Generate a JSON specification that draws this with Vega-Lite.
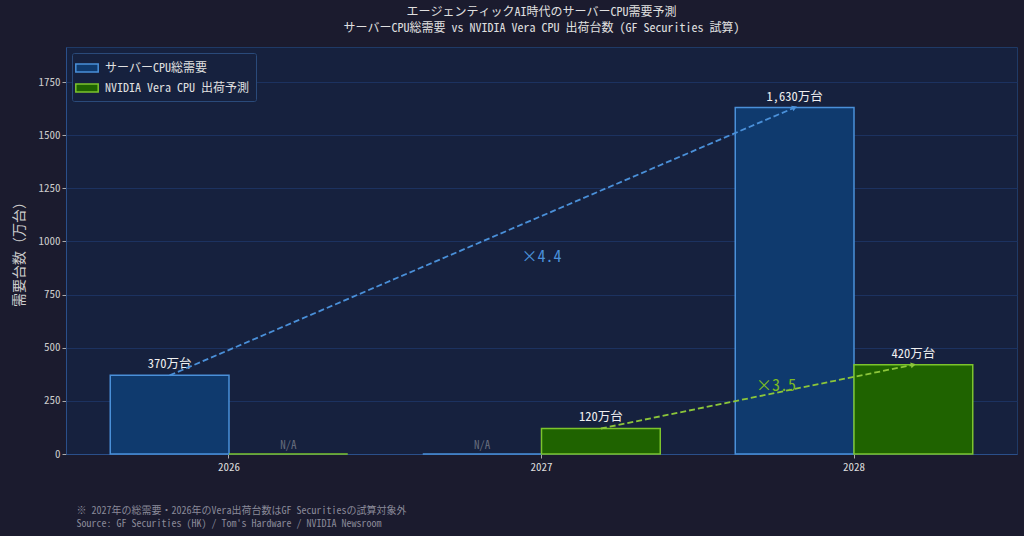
{
  "$schema": "https://vega.github.io/schema/vega-lite/v6.json",
  "width": 951,
  "height": 407,
  "autosize": {"type": "none"},
  "padding": {"left": 66, "top": 47, "right": 7, "bottom": 82},
  "background": "#1b1b2e",
  "config": {
    "font": "Noto Sans Mono CJK JP, DejaVu Sans Mono, Noto Sans CJK JP",
    "view": {"fill": "#16213e", "stroke": "#1f3a66"},
    "axis": {"labelFont": "Noto Sans Mono CJK JP, DejaVu Sans Mono, Noto Sans CJK JP", "titleFont": "Noto Sans Mono CJK JP, DejaVu Sans Mono, Noto Sans CJK JP"},
    "legend": {"labelFont": "Noto Sans Mono CJK JP, DejaVu Sans Mono, Noto Sans CJK JP"},
    "title": {"font": "Noto Sans Mono CJK JP, DejaVu Sans Mono, Noto Sans CJK JP", "subtitleFont": "Noto Sans Mono CJK JP, DejaVu Sans Mono, Noto Sans CJK JP"}
  },
  "title": {
    "text": "エージェンティックAI時代のサーバーCPU需要予測",
    "subtitle": "サーバーCPU総需要 vs NVIDIA Vera CPU 出荷台数 (GF Securities 試算)",
    "anchor": "middle",
    "fontSize": 12,
    "fontWeight": "normal",
    "color": "#e0e0e0",
    "subtitleFontSize": 12,
    "subtitleColor": "#e0e0e0",
    "subtitlePadding": 4,
    "offset": 12
  },
  "datasets": {
    "bars": [
      {"year": "2026", "series": "サーバーCPU総需要", "value": 370, "label": "370万台"},
      {"year": "2026", "series": "NVIDIA Vera CPU 出荷予測", "value": 0, "label": "N/A"},
      {"year": "2027", "series": "サーバーCPU総需要", "value": 0, "label": "N/A"},
      {"year": "2027", "series": "NVIDIA Vera CPU 出荷予測", "value": 120, "label": "120万台"},
      {"year": "2028", "series": "サーバーCPU総需要", "value": 1630, "label": "1,630万台"},
      {"year": "2028", "series": "NVIDIA Vera CPU 出荷予測", "value": 420, "label": "420万台"}
    ],
    "notes": [
      {"year": "2027", "value": 925, "text": "×4.4", "kind": "blue"},
      {"year": "2028", "value": 320, "text": "×3.5", "kind": "green"}
    ]
  },
  "data": {"name": "bars"},
  "encoding": {
    "x": {
      "field": "year", "type": "nominal",
      "scale": {"paddingInner": 0.24, "paddingOuter": 0.1416},
      "axis": {
        "title": ["※ 2027年の総需要・2026年のVera出荷台数はGF Securitiesの試算対象外", "Source: GF Securities (HK) / Tom's Hardware / NVIDIA Newsroom"],
        "titleAnchor": "start", "titleAlign": "left", "titleBaseline": "top",
        "titleX": 10, "titleY": 51, "titleFontSize": 10, "titleFontWeight": "normal",
        "titleColor": "#8a8a99", "titleLineHeight": 13,
        "labelAngle": 0, "labelColor": "#dddddd", "labelFontSize": 11, "labelPadding": 3,
        "tickColor": "#aaaaaa", "tickSize": 4, "domainColor": "#2a4f8a"
      }
    },
    "xOffset": {"field": "series", "type": "nominal", "scale": {"domain": ["サーバーCPU総需要", "NVIDIA Vera CPU 出荷予測"], "paddingInner": 0}},
    "y": {
      "field": "value", "type": "quantitative",
      "scale": {"domain": [0, 1915], "nice": false},
      "axis": {
        "title": "需要台数（万台）", "titleColor": "#cccccc", "titleFontSize": 14, "titleFontWeight": "normal", "titlePadding": 12,
        "values": [0, 250, 500, 750, 1000, 1250, 1500, 1750], "format": "d",
        "labelColor": "#cccccc", "labelFontSize": 11, "tickColor": "#aaaaaa", "tickSize": 4,
        "gridColor": "#1c3260", "gridWidth": 1, "domainColor": "#2a4f8a"
      }
    }
  },
  "layer": [
    {
      "mark": {"type": "bar", "strokeWidth": 1.5},
      "encoding": {
        "fill": {"field": "series", "type": "nominal",
          "scale": {"domain": ["サーバーCPU総需要", "NVIDIA Vera CPU 出荷予測"], "range": ["#0f3a6e", "#1f6300"]},
          "legend": {"title": null, "orient": "top-left", "offset": 6, "fillColor": "#16213e", "strokeColor": "#2a4a7a",
            "padding": 6, "cornerRadius": 2, "labelColor": "#e0e0e0", "labelFontSize": 12, "rowPadding": 4, "labelOffset": 9,
            "symbolType": "M-1.4,-0.5H1.4V0.5H-1.4Z", "symbolSize": 256, "symbolStrokeWidth": 1.5, "symbolOpacity": 1}},
        "stroke": {"field": "series", "type": "nominal",
          "scale": {"domain": ["サーバーCPU総需要", "NVIDIA Vera CPU 出荷予測"], "range": ["#4a90d9", "#7cc42c"]},
          "legend": {"title": null, "orient": "top-left", "offset": 6, "fillColor": "#16213e", "strokeColor": "#2a4a7a",
            "padding": 6, "cornerRadius": 2, "labelColor": "#e0e0e0", "labelFontSize": 12, "rowPadding": 4, "labelOffset": 9,
            "symbolType": "M-1.4,-0.5H1.4V0.5H-1.4Z", "symbolSize": 256, "symbolStrokeWidth": 1.5, "symbolOpacity": 1}}
      }
    },
    {
      "transform": [{"filter": "datum.label != 'N/A'"}],
      "mark": {"type": "text", "baseline": "bottom", "dy": -4, "fontSize": 12.5, "color": "#f0f0f0"},
      "encoding": {"text": {"field": "label"}}
    },
    {
      "transform": [{"filter": "datum.label == 'N/A'"}],
      "mark": {"type": "text", "baseline": "bottom", "dy": -3, "fontSize": 11, "color": "#6a7080"},
      "encoding": {"text": {"field": "label"}}
    },
    {
      "transform": [{"filter": "datum.series == 'サーバーCPU総需要' && datum.value > 0"}],
      "mark": {"type": "line", "color": "#4a90d9", "strokeWidth": 1.8, "strokeDash": [6, 3]},
      "encoding": {}
    },
    {
      "transform": [{"filter": "datum.series == 'NVIDIA Vera CPU 出荷予測' && datum.value > 0"}],
      "mark": {"type": "line", "color": "#8cc63a", "strokeWidth": 1.8, "strokeDash": [6, 3]},
      "encoding": {}
    },
    {
      "transform": [{"filter": "datum.series == 'サーバーCPU総需要' && datum.year == '2028'"}],
      "mark": {"type": "point", "shape": "triangle-right", "filled": true, "color": "#4a90d9", "size": 35, "opacity": 1, "angle": 337},
      "encoding": {}
    },
    {
      "transform": [{"filter": "datum.series == 'NVIDIA Vera CPU 出荷予測' && datum.year == '2028'"}],
      "mark": {"type": "point", "shape": "triangle-right", "filled": true, "color": "#8cc63a", "size": 35, "opacity": 1, "angle": 348},
      "encoding": {}
    },
    {
      "data": {"name": "notes"},
      "transform": [{"filter": "datum.kind == 'blue'"}],
      "mark": {"type": "text", "fontSize": 16, "color": "#4a90d9", "baseline": "middle"},
      "encoding": {"x": {"field": "year", "type": "nominal"}, "xOffset": null, "y": {"field": "value", "type": "quantitative"}, "text": {"field": "text"}}
    },
    {
      "data": {"name": "notes"},
      "transform": [{"filter": "datum.kind == 'green'"}],
      "mark": {"type": "text", "fontSize": 16, "color": "#7cba22", "baseline": "middle", "dx": -78},
      "encoding": {"x": {"field": "year", "type": "nominal"}, "xOffset": null, "y": {"field": "value", "type": "quantitative"}, "text": {"field": "text"}}
    }
  ]
}
